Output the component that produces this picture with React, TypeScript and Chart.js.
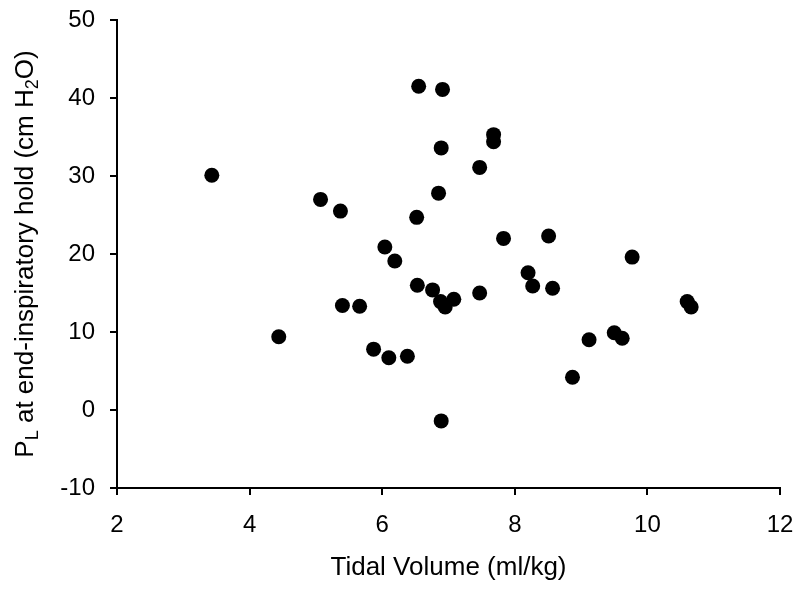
import React, { useEffect, useRef } from "react";
import { Chart, registerables } from "chart.js";

Chart.register(...registerables);

// Tidal volume (ml/kg)
const tidalVolume = [
  3.43, 4.44, 5.07, 5.37, 5.4, 5.66, 5.87, 6.04, 6.1, 6.19, 6.38, 6.52, 6.53,
  6.55, 6.76, 6.85, 6.89, 6.91, 6.88, 6.95, 7.08, 6.89, 7.47, 7.47, 7.68, 7.68,
  7.83, 8.2, 8.27, 8.51, 8.57, 8.87, 9.12, 9.5, 9.62, 9.77, 10.6, 10.66,
];
// P_L at end-inspiratory hold (cm H2O)
const plEndInspiratory = [
  30.1, 9.4, 27.0, 25.5, 13.4, 13.3, 7.8, 20.9, 6.7, 19.1, 6.9, 24.7, 16.0,
  41.5, 15.4, 27.8, 33.6, 41.1, 13.9, 13.2, 14.2, -1.4, 31.1, 15.0, 35.3, 34.4,
  22.0, 17.6, 15.9, 22.3, 15.6, 4.2, 9.0, 9.9, 9.2, 19.6, 13.9, 13.2,
];

const xTickValues = [2, 4, 6, 8, 10, 12];
const yTickValues = [-10, 0, 10, 20, 30, 40, 50];

const xTitle = "Tidal Volume (ml/kg)";
const yTitleParts = [
  { text: "P", sub: false },
  { text: "L", sub: true },
  { text: " at end-inspiratory hold (cm H", sub: false },
  { text: "2", sub: true },
  { text: "O)", sub: false },
];

const FONT = "'Liberation Sans', Arial, sans-serif";

const yTitlePlugin = {
  id: "yTitleWithSubscripts",
  afterDraw(chart: any) {
    const ctx = chart.ctx as CanvasRenderingContext2D;
    const area = chart.chartArea;
    const mainFont = `26px ${FONT}`;
    const subFont = `18px ${FONT}`;
    ctx.save();
    let total = 0;
    const widths = yTitleParts.map((p) => {
      ctx.font = p.sub ? subFont : mainFont;
      const w = ctx.measureText(p.text).width;
      total += w;
      return w;
    });
    const cy = (area.top + area.bottom) / 2;
    ctx.translate(33, cy);
    ctx.rotate(-Math.PI / 2);
    ctx.fillStyle = "#000";
    ctx.textBaseline = "alphabetic";
    ctx.textAlign = "left";
    let x = -total / 2;
    yTitleParts.forEach((p, i) => {
      ctx.font = p.sub ? subFont : mainFont;
      ctx.fillText(p.text, x, p.sub ? 5 : 0);
      x += widths[i];
    });
    ctx.restore();
  },
};

export default function App() {
  const canvasRef = useRef<HTMLCanvasElement | null>(null);

  useEffect(() => {
    if (!canvasRef.current) return;
    const points = tidalVolume.map((x, i) => ({ x, y: plEndInspiratory[i] }));
    const chart = new Chart(canvasRef.current, {
      type: "scatter",
      data: {
        datasets: [
          {
            data: points,
            backgroundColor: "#000",
            borderColor: "#000",
            borderWidth: 0,
            pointRadius: 7.5,
            pointHoverRadius: 7.5,
          },
        ],
      },
      plugins: [yTitlePlugin],
      options: {
        responsive: false,
        animation: false,
        devicePixelRatio: 1,
        layout: { padding: { top: 20, right: 20, left: 0, bottom: 0 } },
        plugins: {
          legend: { display: false },
          tooltip: { enabled: false },
        },
        scales: {
          x: {
            type: "linear",
            min: 2,
            max: 12,
            afterBuildTicks: (scale: any) => {
              scale.ticks = xTickValues.map((v) => ({ value: v }));
            },
            afterFit: (scale: any) => {
              scale.height = 105;
              scale.paddingLeft = 0;
              scale.paddingRight = 0;
            },
            grid: {
              display: true,
              drawOnChartArea: false,
              drawTicks: true,
              tickLength: 7,
              color: "#000",
              lineWidth: 2,
            },
            border: { display: true, color: "#000", width: 2 },
            ticks: {
              color: "#000",
              font: { family: FONT, size: 24 },
              padding: 16,
              maxRotation: 0,
            },
            title: {
              display: true,
              text: xTitle,
              color: "#000",
              font: { family: FONT, size: 26 },
              padding: { top: 0, bottom: 10 },
            },
          },
          y: {
            type: "linear",
            min: -10,
            max: 50,
            afterBuildTicks: (scale: any) => {
              scale.ticks = yTickValues.map((v) => ({ value: v }));
            },
            afterFit: (scale: any) => {
              scale.width = 117;
              scale.paddingTop = 0;
              scale.paddingBottom = 0;
            },
            grid: {
              display: true,
              drawOnChartArea: false,
              drawTicks: true,
              tickLength: 7,
              color: "#000",
              lineWidth: 2,
            },
            border: { display: true, color: "#000", width: 2 },
            ticks: {
              color: "#000",
              font: { family: FONT, size: 24 },
              padding: 15,
            },
            title: { display: false },
          },
        },
      },
    });
    return () => chart.destroy();
  }, []);

  return (
    <div style={{ position: "absolute", left: 0, top: 0, width: 800, height: 593, background: "#fff" }}>
      <canvas ref={canvasRef} width={800} height={593} />
    </div>
  );
}
